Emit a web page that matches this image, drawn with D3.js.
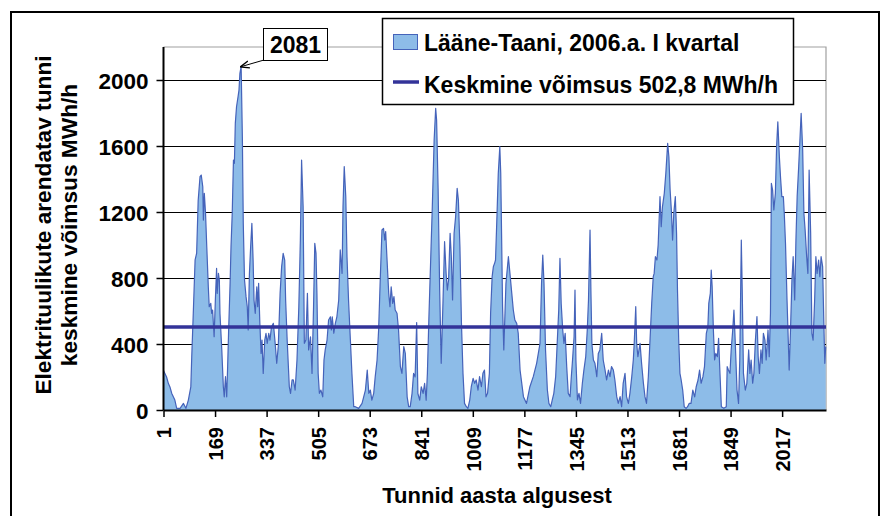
<!DOCTYPE html>
<html>
<head>
<meta charset="utf-8">
<script src="https://cdn.jsdelivr.net/npm/d3@7"></script>
<style>
  body { margin: 0; background: #fff; }
  text { font-family: "Liberation Sans", Arial, sans-serif; font-weight: bold; fill: #000; }
</style>
</head>
<body>
<div id="chart"></div>
<script>
//hour of the quarter and the hourly mean power (MWh/h)
var hours = [
	1, 11, 17, 22, 28, 38, 44, 55, 66, 74, 82, 90, 93, 98, 104, 109, 114, 120, 124, 129,
	131, 134, 138, 142, 147, 150, 155, 158, 161, 166, 170, 174, 176, 180, 183, 185, 191, 196, 199, 203,
	207, 210, 213, 218, 221, 225, 229, 232, 235, 239, 244, 247, 250, 254, 258, 261, 265, 270, 274, 277,
	281, 285, 289, 293, 296, 300, 305, 308, 311, 315, 319, 322, 326, 331, 335, 339, 344, 348, 353, 359,
	364, 370, 375, 381, 386, 391, 396, 399, 404, 411, 415, 420, 424,
	430, 436, 442, 447, 451, 456, 460, 465, 470, 474, 480, 485, 490, 494, 498, 501, 505, 509, 514, 520,
	524, 528, 534, 539, 545, 548, 551, 556, 561, 566, 572, 577, 583, 586, 590, 595, 599, 604, 610, 615,
	621, 626, 637, 648, 659, 665, 670, 675, 680, 686, 691, 697, 702, 708, 713, 718, 722, 725, 729, 735,
	739, 743, 748, 752, 756, 762, 767, 773, 778, 784, 789, 795, 800, 805, 811, 816, 821, 826, 830, 836,
	841, 847, 852,
	857, 861, 866, 872, 877, 883, 888, 891, 896, 901, 906, 912, 917, 922, 926, 930, 935, 939, 943, 948,
	953, 958, 962, 967, 972, 977, 982, 988, 993, 999, 1004, 1010, 1015, 1020, 1026, 1031, 1037, 1042, 1047, 1052,
	1057, 1063, 1067, 1072, 1076, 1080, 1083, 1088, 1092, 1097, 1100, 1103, 1106, 1110, 1117, 1125, 1130, 1136, 1141, 1146,
	1152, 1157, 1163, 1174, 1184, 1195, 1206, 1217, 1228, 1233, 1237, 1241, 1246, 1252, 1257, 1263, 1268, 1273, 1279, 1284,
	1289, 1293, 1297, 1302, 1306, 1310, 1315, 1320, 1326, 1330, 1334, 1339, 1342, 1345, 1350, 1355, 1360, 1366, 1371, 1377,
	1382, 1386, 1391, 1394, 1397, 1402, 1407, 1413, 1418, 1423, 1429, 1434, 1440, 1445, 1451, 1456, 1461, 1467, 1472, 1478,
	1483, 1489, 1494, 1499, 1505, 1510, 1516, 1521, 1527, 1532, 1535, 1540, 1543, 1547, 1554, 1559, 1565, 1570, 1575, 1581,
	1586, 1592, 1597, 1600, 1604, 1609, 1613, 1619, 1623, 1627, 1633, 1638, 1644, 1648, 1652, 1656, 1660, 1664, 1669, 1673,
	1676, 1680, 1684, 1688, 1693, 1698, 1704, 1709, 1714, 1720,
	1726, 1732, 1737, 1743, 1748, 1753, 1759, 1764, 1770, 1775, 1778, 1783, 1786, 1789, 1793, 1797, 1801, 1806, 1810, 1814,
	1819, 1827, 1835, 1838, 1842, 1847, 1851, 1856, 1860, 1864, 1870, 1875, 1879, 1884, 1887, 1891, 1897, 1902, 1908, 1912,
	1916, 1921, 1925, 1930, 1935, 1939, 1943, 1948, 1952, 1956, 1961, 1965, 1971, 1975, 1979, 1982, 1986, 1990, 1995, 1999,
	2003, 2008, 2012, 2016, 2021, 2024, 2028, 2033, 2037, 2040, 2044, 2049, 2053, 2058, 2062, 2066, 2071, 2075, 2079, 2084,
	2088, 2092, 2097, 2101, 2105, 2110, 2114, 2118, 2123, 2127, 2131, 2136, 2140, 2144, 2149, 2153, 2156, 2159
];
var power = [
	240, 200, 160, 140, 100, 60, 10, 10, 40, 10, 60, 140, 320, 585, 910, 950, 1270, 1414, 1424, 1353,
	1151, 1313, 1192, 990, 747, 626, 646, 586, 606, 444, 667, 858, 707, 828, 788, 586, 364, 141, 80, 202,
	80, 262, 465, 767, 990, 1192, 1515, 1495, 1737, 1838, 1899, 1939, 2040, 2081, 1656, 1131, 788, 687, 626, 485,
	828, 990, 1131, 909, 667, 586, 747, 626, 768, 525, 343, 424, 222, 424, 465, 404, 465, 424, 505, 525,
	424, 283, 384, 707, 869, 949, 909, 667, 424, 141, 101, 182, 182,
	121, 303, 626, 1030, 1515, 1232, 404, 424, 707, 364, 444, 222, 626, 1010, 949, 707, 222, 101, 121, 80,
	303, 364, 424, 545, 565, 485, 565, 465, 525, 565, 667, 970, 828, 1232, 1475, 1293, 929, 667, 424, 222,
	20, 20, 10, 40, 121, 242, 101, 121, 60, 101, 202, 303, 485, 828, 1091, 1101, 1030, 1081, 929, 707,
	626, 747, 646, 687, 606, 586, 485, 263, 222, 384, 343, 80, 20, 20, 101, 222, 200, 530, 100, 60,
	141, 101, 161,
	60, 222, 565, 929, 1232, 1636, 1828, 1757, 1333, 727, 283, 667, 1020, 828, 727, 788, 1071, 929, 667, 1071,
	1172, 1343, 1273, 990, 525, 222, 40, 20, 10, 60, 141, 192, 162, 182, 121, 202, 141, 222, 242, 80,
	101, 222, 586, 808, 869, 889, 909, 1192, 1434, 1596, 1434, 1030, 626, 364, 768, 929, 828, 707, 606, 545,
	525, 465, 242, 81, 40, 141, 202, 283, 404, 768, 939, 768, 364, 121, 40, 20, 61, 101, 202, 404,
	606, 919, 646, 485, 404, 465, 263, 101, 81, 202, 303, 444, 727, 303, 61, 101, 40, 162, 242, 323,
	485, 667, 1091, 707, 404, 303, 283, 202, 343, 364, 465, 303, 242, 182, 242, 202, 263, 242, 182, 81,
	40, 81, 20, 162, 222, 81, 40, 101, 202, 303, 404, 626, 404, 323, 404, 283, 162, 81, 40, 202,
	404, 646, 808, 828, 929, 909, 1000, 1293, 1111, 1232, 1313, 1434, 1616, 1535, 1333, 1212, 1030, 1192, 1293, 1071,
	727, 424, 222, 182, 121, 20, 10, 20, 40, 40,
	121, 80, 141, 182, 242, 162, 202, 263, 465, 505, 646, 707, 848, 747, 485, 303, 343, 323, 434, 242,
	20, 10, 20, 263, 242, 222, 364, 485, 606, 424, 121, 40, 303, 1030, 727, 222, 121, 162, 364, 222,
	303, 162, 222, 424, 566, 323, 222, 364, 283, 465, 424, 303, 485, 323, 586, 1373, 1333, 1212, 1313, 1596,
	1747, 1535, 1404, 1293, 1293, 1192, 1010, 667, 424, 242, 465, 788, 929, 667, 1030, 1293, 1475, 1636, 1798, 1576,
	1192, 1091, 929, 828, 1454, 1071, 465, 424, 667, 929, 828, 909, 808, 929, 869, 525, 283, 384
];

var xTickHours = [1, 169, 337, 505, 673, 841, 1009, 1177, 1345, 1513, 1681, 1849, 2017];
var yTicks = [0, 400, 800, 1200, 1600, 2000];
var gridValues = [400, 800, 1200, 1600, 2000];
var meanPower = 502.8;
var peakHour = 254;
var peakValue = 2081;
var seriesName = "Lääne-Taani, 2006.a. I kvartal";
var meanName = "Keskmine võimsus 502,8 MWh/h";
var yTitle = ["Elektrituulikute arendatav tunni", "keskmine võimsus MWh/h"];
var xTitle = "Tunnid aasta algusest";

var areaFill = "#8dbce8";
var areaLine = "#4563ba";
var meanColor = "#333399";

drawChart();

function drawChart()
{
	var width = 883;
	var height = 516;
	var left = 163.5, right = 826, top = 47, bottom = 410;

	var svg = d3.select("#chart").append("svg")
		.attr("width", width)
		.attr("height", height)
		.style("display", "block");

	var x = d3.scaleLinear().domain([1, 2160]).range([left, right]);
	var y = d3.scaleLinear().domain([0, 2200]).range([bottom, top]);

	//outer frame
	svg.append("rect")
		.attr("x", 11).attr("y", 12)
		.attr("width", 868).attr("height", 530)
		.attr("fill", "none").attr("stroke", "#000").attr("stroke-width", 2);

	//plot frame top/right in grey
	svg.append("path")
		.attr("d", "M" + left + "," + y(2200) + "H" + right + "V" + bottom)
		.attr("fill", "none").attr("stroke", "#a0a0a0").attr("stroke-width", 1.2);

	//grid lines
	svg.selectAll(".grid").data(gridValues).enter().append("line")
		.attr("x1", left).attr("x2", right)
		.attr("y1", function(d){ return Math.round(y(d)) + 0.5; })
		.attr("y2", function(d){ return Math.round(y(d)) + 0.5; })
		.attr("stroke", "#000").attr("stroke-width", 1);

	var data = hours.map(function(h, i){ return [h, power[i]]; });

	var area = d3.area()
		.x(function(d){ return x(d[0]); })
		.y0(y(0))
		.y1(function(d){ return y(d[1]); });
	var line = d3.line()
		.x(function(d){ return x(d[0]); })
		.y(function(d){ return y(d[1]); });

	svg.append("path").datum(data)
		.attr("d", area)
		.attr("fill", areaFill);
	svg.append("path").datum(data)
		.attr("d", line)
		.attr("fill", "none")
		.attr("stroke", areaLine)
		.attr("stroke-width", 1.2)
		.attr("stroke-linejoin", "round");

	//mean line
	svg.append("line")
		.attr("x1", left).attr("x2", right)
		.attr("y1", y(meanPower)).attr("y2", y(meanPower))
		.attr("stroke", meanColor).attr("stroke-width", 3.5);

	//axes
	var yAxis = svg.append("g")
		.attr("transform", "translate(" + left + ",0)")
		.call(d3.axisLeft(y).tickValues(yTicks).tickFormat(d3.format("d"))
			.tickSize(7).tickSizeOuter(0).tickPadding(8));
	yAxis.select(".domain").attr("d", "M0," + top + "V" + bottom).attr("stroke-width", 2);
	yAxis.selectAll("line").attr("stroke-width", 1.5);
	yAxis.selectAll("text").style("font-size", "22.5px").attr("dy", "0.36em");

	var xAxis = svg.append("g")
		.attr("transform", "translate(0," + bottom + ")")
		.call(d3.axisBottom(x).tickValues(xTickHours).tickFormat(d3.format("d"))
			.tickSize(7).tickSizeOuter(0));
	xAxis.select(".domain").attr("stroke-width", 2);
	xAxis.selectAll("line").attr("stroke-width", 1.5);
	xAxis.selectAll("text")
		.style("font-size", "20px")
		.style("text-anchor", "end")
		.attr("transform", "rotate(-90)")
		.attr("x", -17)
		.attr("y", 0)
		.attr("dy", "0.36em");

	//axis titles
	svg.selectAll(".ytitle").data(yTitle).enter().append("text")
		.attr("transform", function(d, i){ return "translate(" + (43 + i * 26) + ",225) rotate(-90)"; })
		.attr("dy", "0.36em")
		.style("text-anchor", "middle")
		.style("font-size", "22.7px")
		.text(function(d){ return d; });

	svg.append("text")
		.attr("x", 497).attr("y", 503)
		.style("text-anchor", "middle")
		.style("font-size", "22px")
		.text(xTitle);

	//peak callout
	svg.append("defs").append("marker")
		.attr("id", "arrow")
		.attr("viewBox", "0 0 10 10")
		.attr("refX", 9).attr("refY", 5)
		.attr("markerWidth", 9).attr("markerHeight", 9)
		.attr("orient", "auto")
		.append("path").attr("d", "M0,1L10,5L0,9").attr("fill", "none").attr("stroke", "#000").attr("stroke-width", 1.5);
	svg.append("line")
		.attr("x1", 264).attr("y1", 60)
		.attr("x2", x(peakHour)).attr("y2", y(peakValue))
		.attr("stroke", "#000").attr("stroke-width", 1)
		.attr("marker-end", "url(#arrow)");
	svg.append("rect")
		.attr("x", 263.5).attr("y", 28.5).attr("width", 64).attr("height", 32)
		.attr("fill", "#fff").attr("stroke", "#000").attr("stroke-width", 1);
	svg.append("text")
		.attr("x", 295.5).attr("y", 53)
		.style("text-anchor", "middle")
		.style("font-size", "23px")
		.text(peakValue);

	//legend
	svg.append("rect")
		.attr("x", 382.5).attr("y", 18.5).attr("width", 411).attr("height", 86)
		.attr("fill", "#fff").attr("stroke", "#000").attr("stroke-width", 1.5);
	svg.append("rect")
		.attr("x", 393.5).attr("y", 34.5).attr("width", 24).attr("height", 15)
		.attr("fill", areaFill).attr("stroke", areaLine).attr("stroke-width", 1);
	svg.append("line")
		.attr("x1", 393).attr("x2", 419).attr("y1", 82).attr("y2", 82)
		.attr("stroke", meanColor).attr("stroke-width", 3.5);
	svg.append("text").attr("x", 424).attr("y", 51)
		.style("font-size", "23px").text(seriesName);
	svg.append("text").attr("x", 424).attr("y", 93)
		.style("font-size", "23px").text(meanName);
}
</script>
</body>
</html>
